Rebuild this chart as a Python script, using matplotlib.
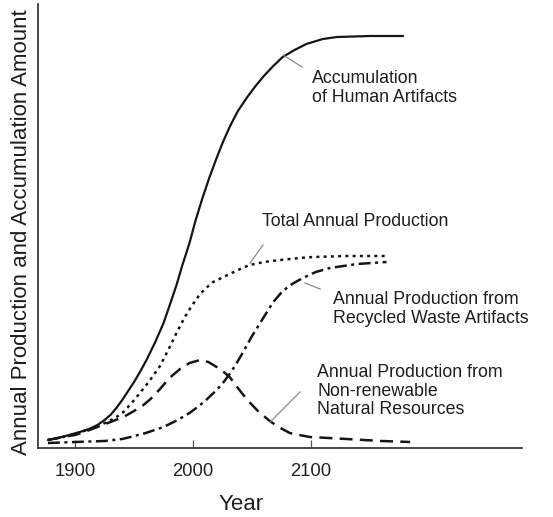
import matplotlib
matplotlib.use("Agg")
import matplotlib.pyplot as plt

plt.rcParams['font.family'] = ['Liberation Sans', 'DejaVu Sans']

# ---- data ----
acc_years = [1877, 1885, 1895, 1904, 1912, 1919, 1925, 1930, 1935, 1940, 1945, 1950,
             1955, 1961, 1968, 1975, 1980, 1986, 1991, 1997, 2002, 2008, 2014, 2020,
             2025, 2031, 2038, 2046, 2053, 2060, 2068, 2076, 2086, 2096, 2110, 2122,
             2150, 2178]
acc_vals = [8, 10, 13, 16, 19, 23, 28, 33, 40, 48, 57, 66,
            76, 89, 106, 125, 142, 163, 183, 205, 227, 250, 271, 290,
            305, 321, 337, 351, 362, 372, 382, 391, 398, 404, 409, 411,
            412, 412]

tot_years = [1877, 1890, 1900, 1910, 1920, 1927, 1934, 1941, 1948, 1955, 1963, 1972,
             1979, 1986, 1993, 2000, 2006, 2012, 2017, 2024, 2031, 2040, 2048, 2060,
             2074, 2090, 2102, 2130, 2164]
tot_vals = [8, 11, 14, 18, 22, 26, 30, 36, 45, 55, 67, 82,
            98, 115, 131, 144, 154, 161, 166, 170, 174, 179, 183, 186,
            188, 190, 191, 192, 192]

nonren_years = [1877, 1890, 1900, 1910, 1919, 1930, 1941, 1950, 1958, 1964, 1972, 1980,
                1989, 1997, 2006, 2013, 2020, 2026, 2031, 2038, 2046, 2055, 2065, 2074,
                2082, 2090, 2099, 2115, 2130, 2160, 2184]
nonren_vals = [8, 11, 13, 17, 21, 26, 31, 37, 43, 49, 59, 70,
               79, 85, 88, 86, 81, 76, 71, 60, 48, 37, 27, 20,
               15, 13, 11, 10, 9, 7, 6]

rec_years = [1877, 1900, 1925, 1940, 1947, 1960, 1975, 1987, 1997, 2005, 2012, 2020,
             2026, 2031, 2036, 2042, 2050, 2060, 2068, 2076, 2084, 2093, 2104, 2116,
             2139, 2164]
rec_vals = [5, 6, 7, 9, 11, 15, 21, 28, 35, 42, 49, 58,
            66, 74, 83, 95, 112, 131, 146, 157, 164, 170, 176, 180,
            184, 186]

xticks = [1900, 2000, 2100]
xtick_labels = ["1900", "2000", "2100"]

fig = plt.figure(figsize=(5.53, 5.17), dpi=100)
ax = fig.add_axes([38 / 553, 1 - 448 / 517, (522 - 38) / 553, (448 - 4) / 517])
ax.set_xlim(1868.6, 2278.8)
ax.set_ylim(0, 444)

lc = '#161616'
ax.plot(acc_years, acc_vals, color=lc, lw=1.6, solid_capstyle='round',
        solid_joinstyle='round')
ax.plot(tot_years, tot_vals, color=lc, lw=1.8, linestyle=(0, (1.2, 1.7)))
ax.plot(nonren_years, nonren_vals, color=lc, lw=1.8, linestyle=(0, (5.2, 2.9)))
ax.plot(rec_years, rec_vals, color=lc, lw=1.8, linestyle=(0, (4.8, 1.8, 1.2, 1.8)))

for s in ['top', 'right']:
    ax.spines[s].set_visible(False)
for s in ['left', 'bottom']:
    ax.spines[s].set_color('#3a3a3a')
    ax.spines[s].set_linewidth(1.3)

ax.set_yticks([])
ax.set_xticks(xticks)
ax.set_xticklabels(xtick_labels)
ax.tick_params(axis='x', direction='in', length=6, width=0.9, color='#555555',
               pad=11, labelsize=13.3, labelcolor='#222222')

tc = '#1e1e1e'
fs = 12.8
gray = '#8a8a8a'

ax.text(2100.8, 360, "Accumulation\nof Human Artifacts", fontsize=fs, color=tc,
        ha='left', va='center', linespacing=1.15)
ax.plot([2076.3, 2092.4], [393, 381], color=gray, lw=0.9)

ax.text(2058.5, 226, "Total Annual Production", fontsize=fs, color=tc,
        ha='left', va='center')
ax.plot([2048.3, 2059.3], [185, 203], color=gray, lw=0.9)

ax.text(2118.6, 139, "Annual Production from\nRecycled Waste Artifacts", fontsize=fs,
        color=tc, ha='left', va='center', linespacing=1.15)
ax.plot([2094.9, 2107.6], [165, 159], color=gray, lw=0.9)

ax.text(2105.1, 57, "Annual Production from\nNon-renewable\nNatural Resources",
        fontsize=fs, color=tc, ha='left', va='center', linespacing=1.15)
ax.plot([2065.3, 2090.7], [26, 56], color=gray, lw=0.9)

fig.text(241 / 553, 1 - 505 / 517, "Year", fontsize=16, color=tc,
         ha='center', va='center')
fig.text(22 / 553, 1 - 232 / 517, "Annual Production and Accumulation Amount",
         fontsize=16, color=tc, rotation=90, ha='center', va='center')

fig.savefig("out.png", dpi=100)
